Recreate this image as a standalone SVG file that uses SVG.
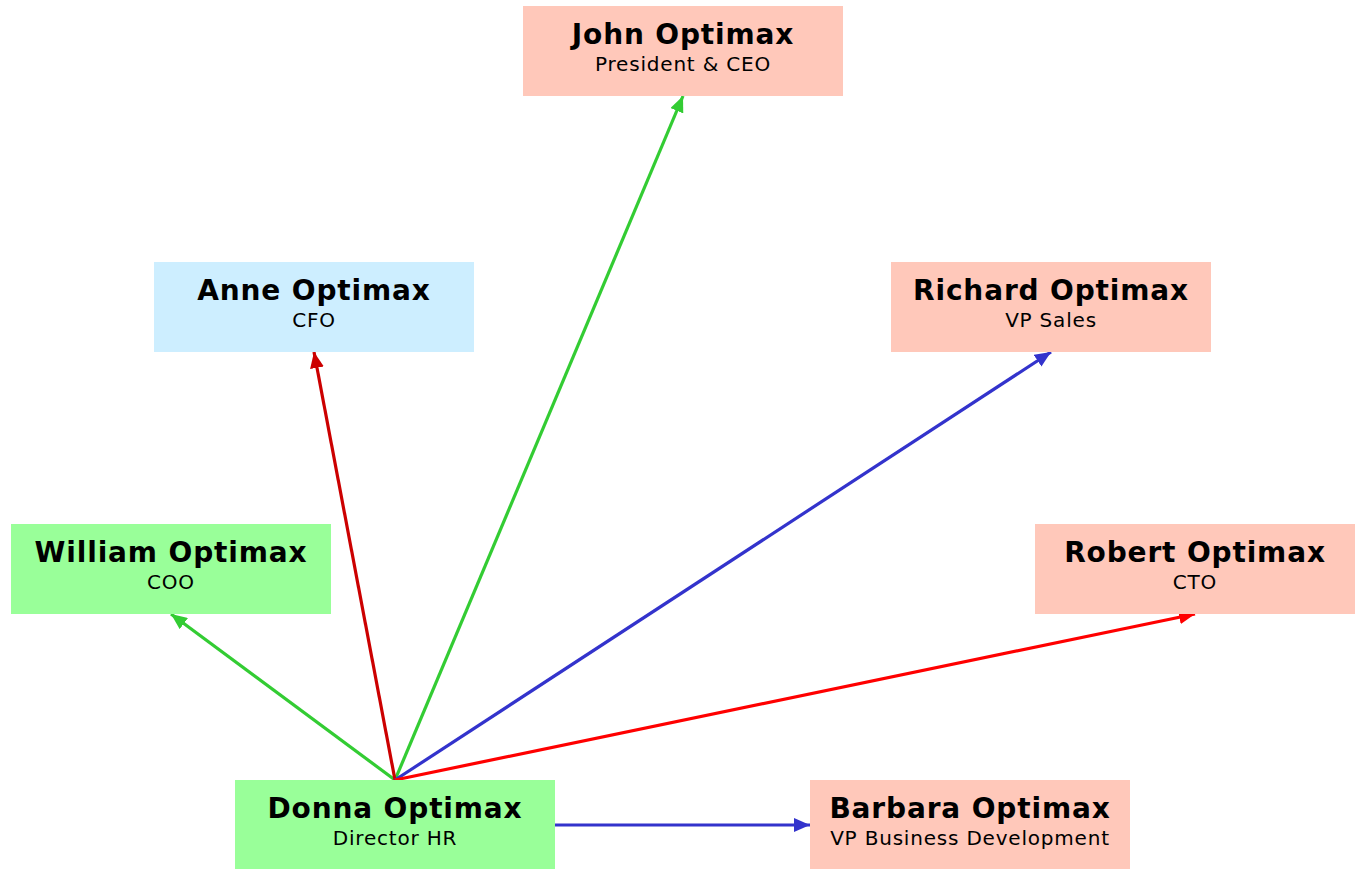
<svg xmlns="http://www.w3.org/2000/svg" width="1361" height="869" viewBox="0 0 1361 869">
<style>
.box{stroke:none}
.peach{fill:#ffc8ba}
.blue{fill:#cdeeff}
.green{fill:#99ff99}
.name{font-family:"DejaVu Sans",Verdana,sans-serif;font-weight:bold;font-size:28px;letter-spacing:0.85px;fill:#000;text-anchor:middle}
.title{font-family:"DejaVu Sans",Verdana,sans-serif;font-size:20px;letter-spacing:0.8px;fill:#000;text-anchor:middle}
.c{fill:none;stroke-width:3.2}
</style>
<defs>
<marker id="ag" viewBox="0 0 16 14" refX="16" refY="7" markerWidth="16" markerHeight="14" markerUnits="userSpaceOnUse" orient="auto"><path d="M0,0 L16,7 L0,14 z" fill="#33cc33"/></marker>
<marker id="ab" viewBox="0 0 16 14" refX="16" refY="7" markerWidth="16" markerHeight="14" markerUnits="userSpaceOnUse" orient="auto"><path d="M0,0 L16,7 L0,14 z" fill="#3333cc"/></marker>
<marker id="ad" viewBox="0 0 16 14" refX="16" refY="7" markerWidth="16" markerHeight="14" markerUnits="userSpaceOnUse" orient="auto"><path d="M0,0 L16,7 L0,14 z" fill="#cc0000"/></marker>
<marker id="ar" viewBox="0 0 16 14" refX="16" refY="7" markerWidth="16" markerHeight="14" markerUnits="userSpaceOnUse" orient="auto"><path d="M0,0 L16,7 L0,14 z" fill="#ff0000"/></marker>
</defs>
<rect width="1361" height="869" fill="#fff"/>
<g id="connectors">
<line class="c" x1="395" y1="780" x2="683" y2="96" stroke="#33cc33" marker-end="url(#ag)"/>
<line class="c" x1="395" y1="780" x2="171" y2="614" stroke="#33cc33" marker-end="url(#ag)"/>
<line class="c" x1="395" y1="780" x2="314" y2="352" stroke="#cc0000" marker-end="url(#ad)"/>
<line class="c" x1="395" y1="780" x2="1051" y2="352" stroke="#3333cc" marker-end="url(#ab)"/>
<line class="c" x1="395" y1="780" x2="1195" y2="614" stroke="#ff0000" marker-end="url(#ar)"/>
<line class="c" x1="555" y1="825" x2="810" y2="825" stroke="#3333cc" marker-end="url(#ab)"/>
</g>
<g id="john"><rect class="box peach" x="523" y="6" width="320" height="90"/><text class="name" x="683" y="44">John Optimax</text><text class="title" x="683" y="71">President &amp; CEO</text></g>
<g id="anne"><rect class="box blue" x="154" y="262" width="320" height="90"/><text class="name" x="314" y="300">Anne Optimax</text><text class="title" x="314" y="327">CFO</text></g>
<g id="richard"><rect class="box peach" x="891" y="262" width="320" height="90"/><text class="name" x="1051" y="300">Richard Optimax</text><text class="title" x="1051" y="327">VP Sales</text></g>
<g id="william"><rect class="box green" x="11" y="524" width="320" height="90"/><text class="name" x="171" y="562">William Optimax</text><text class="title" x="171" y="589">COO</text></g>
<g id="robert"><rect class="box peach" x="1035" y="524" width="320" height="90"/><text class="name" x="1195" y="562">Robert Optimax</text><text class="title" x="1195" y="589">CTO</text></g>
<g id="donna"><rect class="box green" x="235" y="780" width="320" height="90"/><text class="name" x="395" y="818">Donna Optimax</text><text class="title" x="395" y="845">Director HR</text></g>
<g id="barbara"><rect class="box peach" x="810" y="780" width="320" height="90"/><text class="name" x="970" y="818">Barbara Optimax</text><text class="title" x="970" y="845">VP Business Development</text></g>
</svg>
